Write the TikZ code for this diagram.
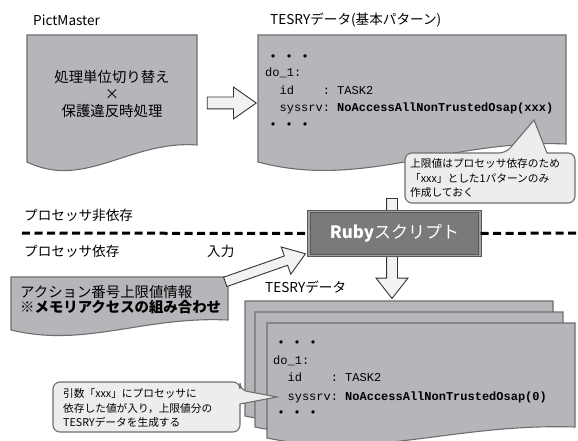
\documentclass[tikz,border=0pt]{standalone}
\usepackage{fontspec}
\setmainfont{Noto Sans CJK JP}
\newfontfamily\codefamily{Liberation Mono}
\usetikzlibrary{shapes.arrows, calc}
\definecolor{docgray}{HTML}{B5B6BA}
\definecolor{docline}{HTML}{6E6E6E}
\definecolor{notefill}{HTML}{EDEDED}
\definecolor{arrowfill}{HTML}{F2F2F2}
\definecolor{arrowline}{HTML}{333333}
\definecolor{rubyfill}{HTML}{7A7A7A}
\definecolor{rubyedge}{HTML}{585858}
\definecolor{rubylight}{HTML}{A0A0A0}

\begin{document}
\begin{tikzpicture}[
    x=1pt, y=-1pt,
    doc/.style={fill=docgray, draw=docline, line width=1.1pt},
    docbody/.style={rectangle, inner sep=0pt, outer sep=0pt, anchor=north west},
    fat/.style={single arrow, draw=arrowline, fill=arrowfill, line width=0.9pt,
                inner xsep=0pt, single arrow head indent=0pt},
    note/.style={fill=notefill, draw=docline, line width=1.1pt},
    notetext/.style={anchor=west, align=left, inner sep=0pt, font=\fontsize{10.7}{14.5}\selectfont},
    bodytext/.style={inner sep=0pt, font=\fontsize{14.4}{17}\selectfont},
    label/.style={anchor=west, inner sep=0pt, font=\fontsize{13.6}{16}\selectfont},
    code/.style={anchor=base west, inner sep=0pt, font=\codefamily\fontsize{12}{14}\selectfont},
    dots/.style={anchor=base west, inner sep=0pt, font=\fontsize{16}{16}\selectfont},
    divider/.style={line width=3pt, dash pattern=on 8pt off 4.5pt},
    script/.style={minimum width=171pt, minimum height=44pt, fill=rubyfill, draw=rubyedge,
                   double=rubylight, double distance=1.2pt, line width=1pt,
                   text=white, font=\fontsize{17}{17}\selectfont}
]
    \useasboundingbox (0,0) rectangle (578,441);

    % Titles
    \node[label] (pmTitle) at (33,20) {PictMaster};
    \node[label] (tesryTitle) at (270,20) {TESRYデータ(基本パターン)};

    % PictMaster document
    \node[docbody, minimum width=170pt, minimum height=110pt] (pict) at (27,35) {};
    \draw[doc] (pict.north west) -- (pict.north east) -- (pict.south east)
        .. controls +(-67,-5) and +(58,28) .. ($(pict.south west)+(0,17)$) -- cycle;
    \node[bodytext, align=center] (pictText) at ($(pict.center)+(0,4)$)
        {処理単位切り替え\\×\\保護違反時処理};

    % TESRY data (basic pattern)
    \node[docbody, minimum width=308pt, minimum height=109pt] (tesry) at (258,35) {};
    \draw[doc] (tesry.north west) -- (tesry.north east) -- (tesry.south east)
        .. controls +(-120,-5) and +(105,28) .. ($(tesry.south west)+(0,18)$) -- cycle;
    \node[dots] (tDots1) at (265,63) {・・・};
    \node[code] (tLine1) at (265,77) {do\_1:};
    \node[code] (tLine2) at (265,95) {~~id~~~~:~TASK2};
    \node[code] (tLine3) at (265,112) {~~syssrv:~\textbf{NoAccessAllNonTrustedOsap(xxx)}};
    \node[dots] (tDots2) at (265,131) {・・・};

    % Note on the basic pattern
    \draw[note] (405,178) [rounded corners=7pt] -- (405,153) -- (506,153) [sharp corners]
        -- (534,120) -- (547,153) [rounded corners=7pt] -- (575,153) -- (575,203) -- (405,203) -- cycle;
    \node[notetext] (note1) at (410,178) {上限値はプロセッサ依存のため\\「xxx」とした1パターンのみ\\作成しておく};

    % PictMaster -> TESRY
    \node[fat, inner ysep=5.5pt, single arrow head extend=10pt, single arrow tip angle=70,
          minimum height=49pt] (toTesry) at (227.5,103) {};

    % TESRY -> Ruby -> output
    \node[fat, rotate=-90, inner ysep=5pt, single arrow head extend=10.5pt,
          single arrow tip angle=76, minimum height=100pt] (toStack) at (392,245) {};
    \node[script] (ruby) at (394.5,233.5) {\textbf{Ruby}スクリプト};

    % Divider
    \coordinate (dashL) at (22,233);
    \coordinate (dashR) at (578,233);
    \draw[divider] (dashL) -- (ruby.west);
    \draw[divider] (ruby.east) -- (dashR);
    \node[label] (indep) at (24,215) {プロセッサ非依存};
    \node[label] (dep) at (24,251) {プロセッサ依存};
    \node[label] (inLabel) at (207,251) {入力};

    % Action number limits
    \node[docbody, minimum width=217pt, minimum height=43pt] (action) at (11,277) {};
    \draw[doc] (action.north west) -- (action.north east) -- (action.south east)
        .. controls +(-85,-4) and +(74,18) .. ($(action.south west)+(0,10)$) -- cycle;
    \node[bodytext, anchor=west, align=left, font=\fontsize{14.4}{15}\selectfont] (actionText) at (20,299.5)
        {アクション番号上限値情報\\\textbf{※メモリアクセスの組み合わせ}};
    \node[fat, rotate=19.3, inner ysep=4.5pt, single arrow head extend=9.5pt,
          single arrow tip angle=70, minimum height=85pt] (inArrow) at (262,269) {};

    % Generated TESRY data
    \node[label] (outTitle) at (265,287) {TESRYデータ};
    \node[docbody, minimum width=308pt, minimum height=104pt] (stackA) at (245,301) {};
    \draw[doc] (stackA.north west) -- (stackA.north east) -- (stackA.south east)
        .. controls +(-120,-4) and +(105,22) .. ($(stackA.south west)+(0,11)$) -- cycle;
    \node[docbody, minimum width=308pt, minimum height=104pt] (stackB) at (255,312) {};
    \draw[doc] (stackB.north west) -- (stackB.north east) -- (stackB.south east)
        .. controls +(-120,-4) and +(105,22) .. ($(stackB.south west)+(0,11)$) -- cycle;
    \node[docbody, minimum width=308pt, minimum height=104pt] (stackC) at (267,323) {};
    \draw[doc] (stackC.north west) -- (stackC.north east) -- (stackC.south east)
        .. controls +(-120,-4) and +(105,22) .. ($(stackC.south west)+(0,11)$) -- cycle;
    \node[dots] (sDots1) at (273,348) {・・・};
    \node[code] (sLine1) at (273,364) {do\_1:};
    \node[code] (sLine2) at (273,381) {~~id~~~~:~TASK2};
    \node[code] (sLine3) at (273,400) {~~syssrv:~\textbf{NoAccessAllNonTrustedOsap(0)}};
    \node[dots] (sDots2) at (273,418) {・・・};

    % Note on the generated data
    \draw[note] (53,407) [rounded corners=7pt] -- (53,382) -- (240,382) -- (240,390) [sharp corners]
        -- (277,397) -- (240,404) [rounded corners=7pt] -- (240,432) -- (53,432) -- cycle;
    \node[notetext] (note2) at (63,408) {引数「xxx」にプロセッサに\\依存した値が入り，上限値分の\\TESRYデータを生成する};
\end{tikzpicture}
\end{document}
